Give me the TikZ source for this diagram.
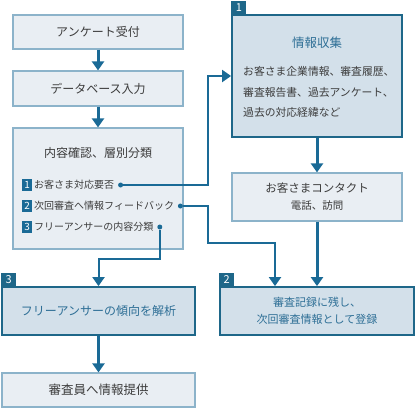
\documentclass[tikz,border=0pt]{standalone}
\usepackage{fontspec}
\setmainfont{Noto Sans CJK JP}
\usepackage{xcolor}
\usepackage{tikz}
\usetikzlibrary{arrows.meta,positioning}

\definecolor{flowblue}{HTML}{1A6A96}
\definecolor{paleback}{HTML}{E9EEF3}
\definecolor{paleedge}{HTML}{8CB3CA}
\definecolor{darkback}{HTML}{D3E0EA}
\definecolor{darkedge}{HTML}{1E6789}
\definecolor{textgray}{HTML}{3C3C3C}
\definecolor{titleblue}{HTML}{2E6F96}

\newcommand{\numbox}[1]{{\setlength{\fboxsep}{0.6pt}\colorbox{flowblue}{\makebox[8.8pt]{\rule[-1.6pt]{0pt}{10pt}\textcolor{white}{#1}}}}\hspace{2pt}}

\begin{document}
\begin{tikzpicture}[x=1pt,y=-1pt,
    pale/.style={draw=paleedge, line width=1.2pt, fill=paleback, text=textgray, font=\fontsize{12}{14}\selectfont},
    dark/.style={draw=darkedge, line width=1.8pt, fill=darkback, text=titleblue, font=\fontsize{12}{14}\selectfont},
    tab/.style={fill=darkedge, text=white, inner sep=0pt, minimum width=15pt, minimum height=13pt, anchor=south west, font=\fontsize{11}{11}\selectfont},
    item/.style={text=textgray, anchor=west, inner sep=0pt, font=\fontsize{10}{12}\selectfont},
    dot/.style={circle, fill=flowblue, inner sep=0pt, minimum size=5pt},
    main/.style={->, draw=flowblue, line width=3pt},
    link/.style={->, draw=flowblue, line width=2pt},
    >={Triangle[length=9pt,width=12pt]}]

        \useasboundingbox (0,0) rectangle (415,408);

        % left column
        \node[pale, minimum width=170pt, minimum height=34pt] (enq) at (98,32) {アンケート受付};
        \node[pale, minimum width=170pt, minimum height=35pt] (db) at (98,88.5) {データベース入力};
        \node[pale, minimum width=170pt, minimum height=121pt] (sort) at (98,188.5) {};
        \node[text=textgray, font=\fontsize{12}{14}\selectfont] (sorttitle) at (98,153) {内容確認、層別分類};
        \node[item] (i1) at (22,185) {\numbox{1}お客さま対応要否};
        \node[item] (i2) at (22,206) {\numbox{2}次回審査へ情報フィードバック};
        \node[item] (i3) at (22,227) {\numbox{3}フリーアンサーの内容分類};
        \node[dot, right=3.5pt of i1] (d1) {};
        \node[dot, right=3.5pt of i2] (d2) {};
        \node[dot, right=3.5pt of i3] (d3) {};

        \node[dark, minimum width=193pt, minimum height=48pt] (free) at (98.5,311) {フリーアンサーの傾向を解析};
        \node[tab] (tab3) at (free.north west) {3};
        \node[pale, minimum width=193pt, minimum height=34pt, font=\fontsize{12.5}{14}\selectfont] (prov) at (98.5,390) {審査員へ情報提供};

        % right column
        \node[dark, minimum width=170pt, minimum height=122pt] (info) at (317,76) {};
        \node[tab] (tab1) at (info.north west) {1};
        \node[text=titleblue, font=\fontsize{12.5}{14}\selectfont] (infotitle) at (317,43) {情報収集};
        \node[item, align=left, font=\fontsize{10.8}{20.5}\selectfont] (infobody) at (243,92) {お客さま企業情報、審査履歴、\\審査報告書、過去アンケート、\\過去の対応経緯など};

        \node[pale, minimum width=170pt, minimum height=48pt, align=center, font=\fontsize{11.5}{17}\selectfont] (contact) at (317,197) {お客さまコンタクト\\{\fontsize{10.5}{12}\selectfont 電話、訪問}};

        \node[dark, minimum width=194pt, minimum height=48pt, align=center, font=\fontsize{11}{17}\selectfont] (rec) at (317,311) {審査記録に残し、\\次回審査情報として登録};
        \node[tab] (tab2) at (rec.north west) {2};

        % main flow
        \draw[main] (enq) -- (db);
        \draw[main] (db) -- (sort);
        \draw[main] (free) -- (prov);
        \draw[main] (info) -- (contact);
        \draw[main] (contact) -- (rec);

        % branches
        \coordinate (j1) at (208,0);
        \coordinate (j2) at (275,243);
        \coordinate (j3) at (98.5,259);
        \draw[link] (d1) -- (d1 -| j1) |- (info.west);
        \draw[link] (d2) -- (d2 -| j1) |- (j2) -- (rec.north -| j2);
        \draw[link] (d3) |- (j3) -- (free.north);

\end{tikzpicture}
\end{document}
